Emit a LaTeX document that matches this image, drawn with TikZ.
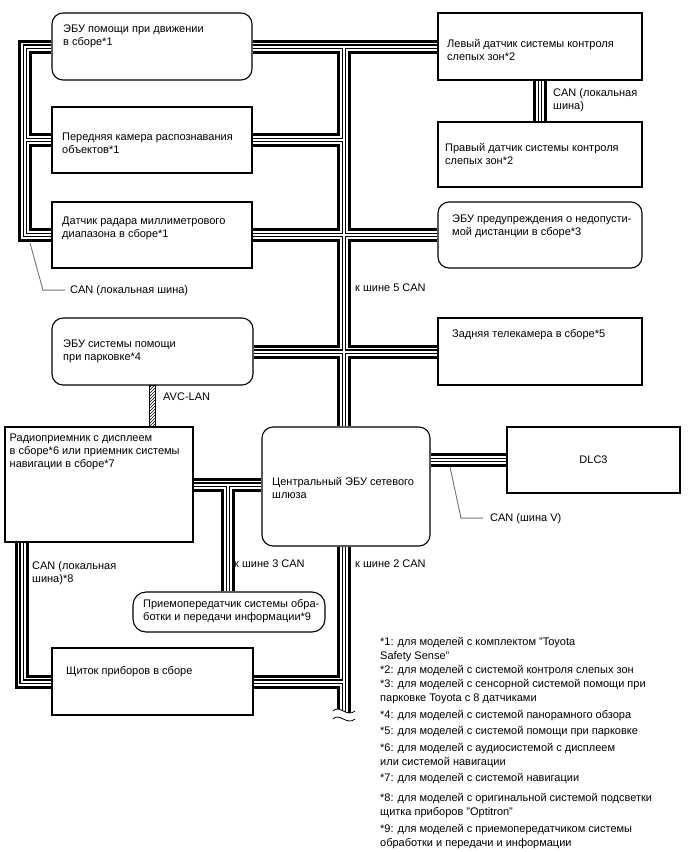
\documentclass[tikz,border=0pt]{standalone}
\usepackage{fontspec}
\setmainfont{Liberation Sans}
\usetikzlibrary{calc,positioning,patterns,backgrounds}

\tikzset{
  box/.style={draw, line width=1.1pt, fill=white, inner sep=0pt},
  rbox/.style={box, rounded corners=11pt},
  txt/.style={anchor=base west, align=left, inner sep=0pt, font=\fontsize{11}{13}\selectfont},
  note/.style={txt, font=\fontsize{11}{14.5}\selectfont},
  leader/.style={draw=black!55, line width=0.9pt},
}
\newcommand\canbus[1]{%
  \draw[line width=14pt] #1;
  \draw[white, line width=8pt] #1;
  \draw[line width=4.6pt] #1;
  \draw[white, line width=2pt] #1;
}

\begin{document}
\begin{tikzpicture}[x=1pt, y=-1pt]
  \useasboundingbox (0,0) rectangle (688,852);
  \coordinate (trunk) at (344,0);
  \coordinate (lbus) at (25,0);
  \coordinate (mbus) at (21.5,0);
  \coordinate (tbus) at (228,0);
  \coordinate (brk) at (344,716);

  \node[rbox, minimum width=200pt, minimum height=67pt] (drv) at (152,46.5) {};
  \node[box, minimum width=200pt, minimum height=66pt] (cam) at (152,140) {};
  \node[box, minimum width=200pt, minimum height=66pt] (mmw) at (152,235) {};
  \node[box, minimum width=204pt, minimum height=67pt] (lds) at (540,46.5) {};
  \node[box, minimum width=204pt, minimum height=65pt] (rds) at (540,154.5) {};
  \node[rbox, minimum width=204pt, minimum height=66pt] (dist) at (540,235) {};
  \node[rbox, minimum width=201pt, minimum height=67pt] (park) at (152.5,351.5) {};
  \node[box, minimum width=204pt, minimum height=67pt] (rear) at (540,351.5) {};
  \node[box, minimum width=188pt, minimum height=115pt] (radio) at (99,484.5) {};
  \node[rbox, minimum width=168pt, minimum height=119pt] (gw) at (346,486.5) {};
  \node[box, minimum width=173pt, minimum height=66pt] (dlc) at (593.5,460) {};
  \node[rbox, minimum width=192pt, minimum height=40pt, rounded corners=13pt] (tcu) at (229,612) {};
  \node[box, minimum width=201pt, minimum height=67pt] (meter) at (152.5,681.5) {};

  \begin{scope}[on background layer]
    \canbus{(drv.east) -- (lds.west) (drv.east -| trunk) -- (trunk |- gw.north)
      (cam.east) -- (cam.east -| trunk) (mmw.east) -- (dist.west) (park.east) -- (rear.west)}
    \canbus{(drv.west) -| (lbus |- mmw.west) -- (mmw.west) (cam.west) -- (cam.west -| lbus)}
    \canbus{(lds.south) -- (rds.north)}
    \canbus{(radio.east) -- (radio.east -| gw.west) (radio.east -| tbus) -- (tbus |- tcu.north)}
    \canbus{(dlc.west -| gw.east) -- (dlc.west)}
    \canbus{(trunk |- gw.south) -- (brk) (meter.east) -- (meter.east -| trunk)}
    \canbus{(mbus |- radio.south) |- (meter.west)}
  \end{scope}

  \draw[pattern=north east lines, line width=0.6pt]
    ($(park.south)+(-3,0)$) rectangle ($(park.south |- radio.north)+(3,0)$);

  \fill[white] (333,711) .. controls (339,704) and (347,718) .. (355,711)
    -- (355,719) .. controls (347,726) and (339,712) .. (333,719) -- cycle;
  \draw[line width=0.8pt] (333,711) .. controls (339,704) and (347,718) .. (355,711);
  \draw[line width=0.8pt] (333,719) .. controls (339,712) and (347,726) .. (355,719);

  \node[txt] (tdrv) at (63,45) {ЭБУ помощи при движении\\в сборе*1};
  \node[txt] (tcam) at (62,153) {Передняя камера распознавания\\объектов*1};
  \node[txt] (tmmw) at (62,237) {Датчик радара миллиметрового\\диапазона в сборе*1};
  \node[txt] (tlds) at (447,60) {Левый датчик системы контроля\\слепых зон*2};
  \node[txt] (trds) at (445,164) {Правый датчик системы контроля\\слепых зон*2};
  \node[txt] (tdist) at (452,235) {ЭБУ предупреждения о недопусти-\\мой дистанции в сборе*3};
  \node[txt] (tpark) at (63,360) {ЭБУ системы помощи\\при парковке*4};
  \node[txt] (trear) at (452,337) {Задняя телекамера в сборе*5};
  \node[txt] (tradio) at (9.5,467) {Радиоприемник с дисплеем\\в сборе*6 или приемник системы\\навигации в сборе*7};
  \node[txt] (tgw) at (272,498) {Центральный ЭБУ сетевого\\шлюза};
  \node[txt, anchor=center] (tdlc) at (dlc) {DLC3};
  \node[txt] (ttcu) at (143,620) {Приемопередатчик системы обра-\\ботки и передачи информации*9};
  \node[txt] (tmeter) at (66,674) {Щиток приборов в сборе};

  \node[txt] (lcan) at (70,293) {CAN (локальная шина)};
  \node[txt] (lpair) at (553,109) {CAN (локальная\\шина)};
  \node[txt] (l5) at (355,291) {к шине 5 CAN};
  \node[txt] (lavc) at (163,400) {AVC-LAN};
  \node[txt] (lv) at (490,521) {CAN (шина V)};
  \node[txt] (l8) at (32,582) {CAN (локальная\\шина)*8};
  \node[txt] (l3) at (234,567) {к шине 3 CAN};
  \node[txt] (l2) at (355,567) {к шине 2 CAN};

  \draw[leader] (30,243) -- (lcan.west -| 43,0) -- ([xshift=-5pt]lcan.west);
  \draw[leader] (450,467) -- (lv.west -| 461,0) -- ([xshift=-7pt]lv.west);

  \node[note] (n1) at (380,659.5) {*1: для моделей с комплектом "Toyota\\Safety Sense"};
  \node[note] (n2) at (380,673) {*2: для моделей с системой контроля слепых зон};
  \node[note] (n3) at (380,701.5) {*3: для моделей с сенсорной системой помощи при\\парковке Toyota с 8 датчиками};
  \node[note] (n4) at (380,718) {*4: для моделей с системой панорамного обзора};
  \node[note] (n5) at (380,734) {*5: для моделей с системой помощи при парковке};
  \node[note] (n6) at (380,765.5) {*6: для моделей с аудиосистемой с дисплеем\\или системой навигации};
  \node[note] (n7) at (380,781) {*7: для моделей с системой навигации};
  \node[note] (n8) at (380,815.5) {*8: для моделей с оригинальной системой подсветки\\щитка приборов "Optitron"};
  \node[note] (n9) at (380,846.5) {*9: для моделей с приемопередатчиком системы\\обработки и передачи и информации};
\end{tikzpicture}
\end{document}
